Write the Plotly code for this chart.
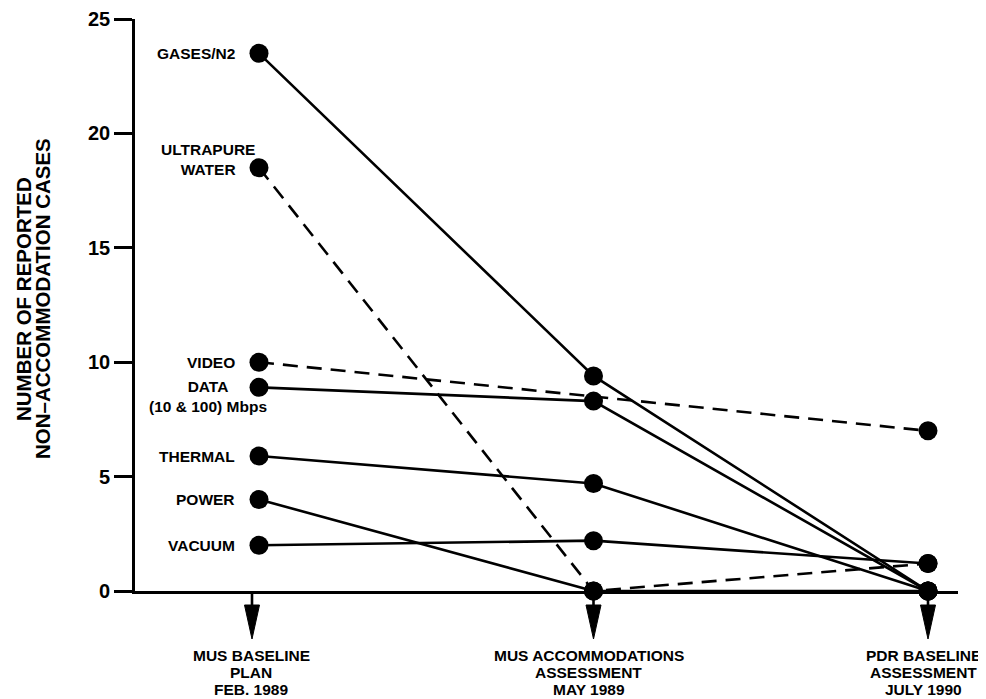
import plotly.graph_objects as go

# ---- data ----
stages = ["MUS BASELINE PLAN FEB. 1989",
          "MUS ACCOMMODATIONS ASSESSMENT MAY 1989",
          "PDR BASELINE ASSESSMENT JULY 1990"]
stage_lines = [["MUS BASELINE", "PLAN", "FEB. 1989"],
               ["MUS ACCOMMODATIONS", "ASSESSMENT", "MAY 1989"],
               ["PDR BASELINE", "ASSESSMENT", "JULY 1990"]]

gases = [23.5, 9.4, 0]
ultrapure = [18.5, 0, 1.2]
video = [10, None, 7]
data_rate = [8.9, 8.3, 0]
thermal = [5.9, 4.7, 0]
power = [4.0, 0, 0]
vacuum = [2.0, 2.2, 1.2]

series_names = ["GASES/N2", "ULTRAPURE<br>WATER", "VIDEO", "DATA<br>(10 & 100) Mbps",
                "THERMAL", "POWER", "VACUUM"]
series_values = [gases, ultrapure, video, data_rate, thermal, power, vacuum]
series_dash = ["solid", "dash", "dash", "solid", "solid", "solid", "solid"]

y_ticks = [0, 5, 10, 15, 20, 25]
y_title_lines = ["NUMBER OF REPORTED", "NON\u2013ACCOMMODATION CASES"]

# ---- layout geometry (figure pixels; page adds an 8px body margin) ----
W, H = 978, 691
ML, MR, MT, MB = 127, 28, 11, 108
plot_w = W - ML - MR
plot_h = H - MT - MB


def py(pix):
    return (H - MB - pix) / plot_h


def px(pix):
    return (pix - ML) / plot_w


x_idx = list(range(len(stages)))
BOLD = dict(family="Liberation Sans, Arial, sans-serif", color="black", weight="bold")

fig = go.Figure()
for name, vals, dash in zip(series_names, series_values, series_dash):
    fig.add_trace(go.Scatter(
        x=x_idx, y=vals, mode="lines+markers", name=name.replace("<br>", " "),
        connectgaps=True, cliponaxis=False,
        line=dict(color="black", width=2.6, dash="15px,9px" if dash == "dash" else "solid"),
        marker=dict(color="black", size=19),
        showlegend=False))

annotations = []
shapes = []
# series labels next to first column
for name, vals in zip(series_names, series_values):
    two = "<br>" in name
    annotations.append(dict(
        x=0, y=vals[0], xref="x", yref="y", text=name, showarrow=False,
        xanchor="center" if two else "right", yanchor="middle", align="center",
        xshift=-51 if two else -22,
        yshift=(8 if vals[0] > 15 else -9) if two else 0,
        font=dict(size=15.5, **BOLD)))

# arrows under the axis (pixel-sized shapes anchored at each stage) + stage labels
arrow_shift = [-7, 0, 0]
label_shift = [-8, -5, -5]
for i, lines in zip(x_idx, stage_lines):
    s = arrow_shift[i]
    shapes.append(dict(
        type="path", xref="x", yref="paper", xsizemode="pixel", ysizemode="pixel",
        xanchor=i, yanchor=0,
        path=f"M{s - 1.3},0 L{s + 1.3},0 L{s + 1.3},-16 L{s - 1.3},-16 Z",
        fillcolor="black", line=dict(width=0)))
    shapes.append(dict(
        type="path", xref="x", yref="paper", xsizemode="pixel", ysizemode="pixel",
        xanchor=i, yanchor=0,
        path=f"M{s - 7.5},-14 L{s + 7.5},-14 L{s},-48 Z",
        fillcolor="black", line=dict(color="black", width=1)))
    for k, line in enumerate(lines):
        annotations.append(dict(
            x=i, y=py(647 + 17 * k), xref="x", yref="paper", text=line, showarrow=False,
            xshift=label_shift[i],
            xanchor="center", yanchor="middle", font=dict(size=15.5, **BOLD)))

# y axis title (two rotated lines)
for k, line in enumerate(y_title_lines):
    annotations.append(dict(
        x=px(15 + 19 * k), y=py(291), xref="paper", yref="paper",
        text=line, textangle=-90, showarrow=False, xanchor="center", yanchor="middle",
        font=dict(size=20.5, **BOLD)))

fig.update_layout(
    width=W, height=H, margin=dict(l=ML, r=MR, t=MT, b=MB, autoexpand=False),
    paper_bgcolor="white", plot_bgcolor="white",
    annotations=annotations, shapes=shapes,
    xaxis=dict(range=[-0.3707, 2.0897], showline=True, linewidth=2.6, linecolor="black",
               showticklabels=False, ticks="", showgrid=False, zeroline=False,
               automargin=False),
    yaxis=dict(range=[0, 25], tickvals=y_ticks, ticks="outside", ticklen=18, tickwidth=2.6,
               tickcolor="black", showline=True, linewidth=2.6, linecolor="black",
               showgrid=False, zeroline=False, tickfont=dict(size=20, **BOLD),
               automargin=False),
)

fig.write_html("out.html")
